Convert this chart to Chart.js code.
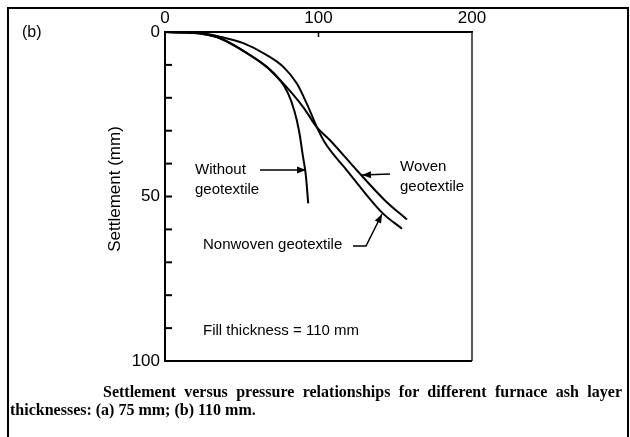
<!DOCTYPE html>
<html><head><meta charset="utf-8">
<script src="https://cdn.jsdelivr.net/npm/chart.js@4/dist/chart.umd.min.js"></script>
<style>
html,body{margin:0;padding:0;background:#fff;}
#wrap{position:relative;width:630px;height:437px;overflow:hidden;}
canvas{position:absolute;left:0;top:0;}
#frame{position:absolute;left:7px;top:7px;width:618px;height:445px;border:2px solid #000;}
#cap{position:absolute;left:10px;top:383px;width:612px;font-family:"Liberation Serif";font-weight:bold;font-size:16px;line-height:18px;text-align:justify;text-align-last:left;text-indent:93px;color:#000;}
</style></head><body>
<div id="wrap">
<canvas id="c" width="630" height="437"></canvas>
<div id="frame"></div>
<div id="cap">Settlement versus pressure relationships for different furnace ash layer thicknesses: (a) 75 mm; (b) 110 mm.</div>
</div>
<script>
// Pressure (x, kPa) and settlement (y, mm)
const withoutX   = [0, 13, 22.8, 35.8, 55.4, 66.3, 74.9, 80.1, 84.3, 87.3, 89.6, 91.6, 93.3];
const withoutY   = [0, 0.15, 0.46, 1.9, 7.0, 10.6, 14.6, 18.6, 24.0, 30.0, 37.0, 43.0, 52.1];
const wovenX     = [0, 13, 22.8, 35.8, 55.4, 66.3, 74.9, 82.7, 90.6, 99.0, 107.5, 125.1, 143.3, 157.6];
const wovenY     = [0, 0.15, 0.46, 1.9, 7.0, 10.6, 14.6, 18.6, 23.2, 29.0, 32.9, 42.1, 51.2, 57.0];
const nonwovenX  = [0, 13, 22.8, 35.8, 51.0, 66.3, 77.1, 85.8, 92.3, 99.0, 104.0, 118.6, 141.4, 154.4];
const nonwovenY  = [0, 0.15, 0.3, 1.4, 3.4, 7.0, 10.6, 15.6, 21.7, 29.0, 33.5, 42.1, 54.9, 59.8];
const xTickLabels = [0, 100, 200];
const yTickLabels = [0, 50, 100];
const yTitle = 'Settlement (mm)';

const pts = (xs, ys) => xs.map((x, i) => ({x, y: ys[i]}));
const FONT = 'Liberation Sans';

const ds = (label, xs, ys, mode) => ({
  label, data: pts(xs, ys), borderColor: '#000', borderWidth: 2,
  pointRadius: 0, fill: false, cubicInterpolationMode: mode, tension: 0.4
});

function arrowHead(ctx, fx, fy, tx, ty) {
  const ang = Math.atan2(ty - fy, tx - fx), L = 9, W = 3.5;
  ctx.beginPath();
  ctx.moveTo(tx, ty);
  ctx.lineTo(tx - L * Math.cos(ang) + W * Math.sin(ang), ty - L * Math.sin(ang) - W * Math.cos(ang));
  ctx.lineTo(tx - L * Math.cos(ang) - W * Math.sin(ang), ty - L * Math.sin(ang) + W * Math.cos(ang));
  ctx.closePath(); ctx.fill();
}

const deco = {
  id: 'deco',
  afterDraw(chart) {
    const {ctx, chartArea: a, scales: {x, y}} = chart;
    ctx.save();
    ctx.strokeStyle = '#000'; ctx.fillStyle = '#000';
    // right and bottom frame of plot
    ctx.lineWidth = 2;
    ctx.beginPath(); ctx.moveTo(a.left, a.bottom); ctx.lineTo(a.right, a.bottom); ctx.stroke();
    ctx.lineWidth = 1.5; ctx.strokeStyle = '#222';
    ctx.beginPath(); ctx.moveTo(a.right, a.top); ctx.lineTo(a.right, a.bottom); ctx.stroke();
    ctx.strokeStyle = '#000';
    // inward tick marks
    ctx.lineWidth = 2;
    y.ticks.forEach(t => {
      if (t.value <= y.min || t.value >= y.max) return;
      const py = y.getPixelForValue(t.value);
      ctx.beginPath(); ctx.moveTo(a.left, py); ctx.lineTo(a.left + 7, py); ctx.stroke();
    });
    ctx.lineWidth = 1.5;
    x.ticks.forEach(t => {
      if (t.value <= x.min || t.value >= x.max) return;
      const px = x.getPixelForValue(t.value);
      ctx.beginPath(); ctx.moveTo(px, a.top); ctx.lineTo(px, a.top + 5); ctx.stroke();
    });
    // y-axis title
    ctx.save();
    ctx.translate(115, 189); ctx.rotate(-Math.PI / 2);
    ctx.textAlign = 'center'; ctx.textBaseline = 'middle';
    ctx.font = '17px ' + FONT;
    ctx.fillText(yTitle, 0, 0);
    ctx.restore();
    // texts
    ctx.textBaseline = 'middle'; ctx.textAlign = 'left';
    ctx.font = '16px ' + FONT;
    ctx.fillText('(b)', 22, 33);
    ctx.font = '15px ' + FONT;
    ctx.fillText('Without', 195, 170);
    ctx.fillText('geotextile', 195, 190);
    ctx.fillText('Woven', 400, 167);
    ctx.fillText('geotextile', 400, 187);
    ctx.fillText('Nonwoven geotextile', 203, 245);
    ctx.fillText('Fill thickness = 110 mm', 203, 331);
    // arrows
    ctx.lineWidth = 1.5;
    ctx.beginPath(); ctx.moveTo(260, 170); ctx.lineTo(306, 170); ctx.stroke();
    arrowHead(ctx, 260, 170, 306, 170);
    ctx.beginPath(); ctx.moveTo(390, 174); ctx.lineTo(362, 175); ctx.stroke();
    arrowHead(ctx, 390, 174, 362, 175);
    ctx.beginPath(); ctx.moveTo(353, 246); ctx.lineTo(366, 246); ctx.lineTo(382, 214); ctx.stroke();
    arrowHead(ctx, 366, 246, 382, 214);
    ctx.restore();
  }
};

new Chart(document.getElementById('c'), {
  type: 'line',
  data: {
    datasets: [
      ds('Without geotextile', withoutX, withoutY, 'default'),
      ds('Woven geotextile', wovenX, wovenY, 'monotone'),
      ds('Nonwoven geotextile', nonwovenX, nonwovenY, 'monotone')
    ]
  },
  options: {
    responsive: false, animation: false,
    layout: {padding: {left: 0, top: 0, right: 158, bottom: 76}},
    plugins: {legend: {display: false}, tooltip: {enabled: false}},
    scales: {
      x: {
        type: 'linear', position: 'top', min: 0, max: 200,
        afterBuildTicks: s => { s.ticks = xTickLabels.map(v => ({value: v})); },
        ticks: {font: {family: FONT, size: 17}, color: '#000', padding: 3, maxRotation: 0, autoSkip: false},
        grid: {display: false, drawTicks: false},
        border: {display: true, color: '#000', width: 2},
        afterFit: s => { s.height = 32; }
      },
      y: {
        type: 'linear', reverse: true, min: 0, max: 100,
        ticks: {stepSize: 10, autoSkip: false, font: {family: FONT, size: 17}, color: '#000', padding: 5,
                callback: v => yTickLabels.includes(v) ? String(v) : ''},
        grid: {display: false, drawTicks: false},
        border: {display: true, color: '#000', width: 2},
        afterFit: s => { s.width = 165; }
      }
    }
  },
  plugins: [deco]
});
</script>
</body></html>
